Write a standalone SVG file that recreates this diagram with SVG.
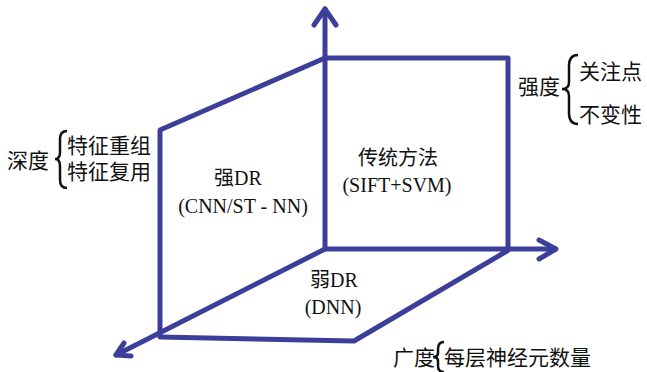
<svg xmlns="http://www.w3.org/2000/svg" width="647" height="372" viewBox="0 0 647 372">
<style>
.ln{fill:none;stroke:#3b3f9a;stroke-width:5;stroke-linecap:round;stroke-linejoin:round}
.t{font-family:"Liberation Serif","Noto Sans CJK SC",serif;font-size:20px;fill:#111}
.s{font-size:21px}
.c{text-anchor:middle}
.br{fill:none;stroke:#111;stroke-width:2.5}
</style>
<rect width="647" height="372" fill="#fff"/>
<g id="connectors">
<path class="ln" d="M325,248 V9"/>
<path class="ln" d="M314,25 L325,9 L336,25"/>
<path class="ln" d="M325,249 H555"/>
<path class="ln" d="M539,240 L556,249 L539,259"/>
<path class="ln" d="M325,249 L116,355"/>
<path class="ln" d="M124,343 L116,355 L131,356"/>
<path class="ln" d="M325,58 H508 V250"/>
<path class="ln" d="M325,58 L160,130 V336"/>
<path class="ln" d="M160,337 L354,341 L507,251"/>
</g>
<g id="back-plane">
<text class="t c" x="398" y="165">传统方法</text>
<text class="t c" x="397" y="192">(SIFT+SVM)</text>
</g>
<g id="left-plane">
<text class="t c" x="238" y="185">强DR</text>
<text class="t c" x="243" y="213">(CNN/ST - NN)</text>
</g>
<g id="bottom-plane">
<text class="t c" x="334" y="287">弱DR</text>
<text class="t c" x="333" y="314">(DNN)</text>
</g>
<g id="depth">
<text class="t s" x="7" y="168">深度</text>
<path class="br" d="M67,131 Q60,131 60,139 V152 Q60,159 55,159 Q60,159 60,166 V180 Q60,188 67,188"/>
<text class="t s" x="67" y="153">特征重组</text>
<text class="t s" x="67" y="179">特征复用</text>
</g>
<g id="strength">
<text class="t s" x="518" y="94">强度</text>
<path class="br" d="M578,55 Q569,55 569,66 V82 Q569,89 562,89 Q569,89 569,96 V113 Q569,124 578,124"/>
<text class="t s" x="579" y="79">关注点</text>
<text class="t s" x="579" y="122">不变性</text>
</g>
<g id="breadth">
<text class="t s" x="393" y="365">广度</text>
<path class="br" d="M444,342 Q438,342 438,349 V353 Q438,357 433,357 Q438,357 438,361 V366 Q438,372 444,372"/>
<text class="t s" x="444" y="365">每层神经元数量</text>
</g>
</svg>
